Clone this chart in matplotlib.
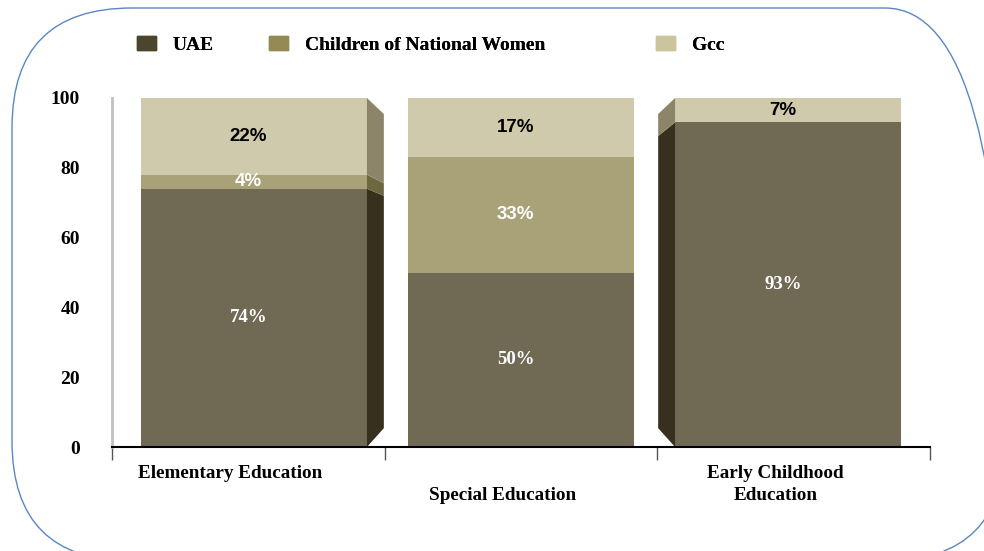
import matplotlib
matplotlib.use('Agg')
import matplotlib.pyplot as plt
import matplotlib.transforms as mtransforms
from matplotlib.patches import Polygon, Patch, FancyBboxPatch
import numpy as np

plt.rcParams['font.family'] = ['Liberation Serif', 'DejaVu Serif']
plt.rcParams['font.weight'] = 'bold'

categories = ['Elementary Education', '\nSpecial Education', 'Early Childhood\nEducation']
series = ['UAE', 'Children of National Women', 'Gcc']
uae = [74, 50, 93]
cnw = [4, 33, 0]
gcc = [22, 17, 7]
yticks = [0, 20, 40, 60, 80, 100]

front_colors = ['#706a55', '#a9a178', '#cfcaab']
side_colors = ['#37301f', '#6e6840', '#8c856a']
legend_colors = ['#4b452c', '#958a54', '#cbc49f']
label_colors = ['white', 'white', 'black']
label_fonts = ['Liberation Serif', 'Liberation Sans', 'Liberation Sans']
faces = ['right', None, 'left']

fig = plt.figure(figsize=(9.84, 5.51), dpi=100)
ax = fig.add_axes([112 / 984, 104 / 551, 818 / 984, 349 / 551])

x = np.arange(len(categories))
shift = np.array([0.02, 0.0, -0.02])
w = 0.83
depth = 0.062

bottoms = np.zeros(len(categories))
for vals, fc, sc, lc, lf in zip([uae, cnw, gcc], front_colors, side_colors,
                                label_colors, label_fonts):
    vals = np.array(vals, dtype=float)
    ax.bar(x + shift, vals, w, bottom=bottoms, color=fc, linewidth=0, zorder=2)
    for i in range(len(categories)):
        if vals[i] == 0:
            continue
        y0, y1 = bottoms[i], bottoms[i] + vals[i]
        if faces[i] is not None:
            if faces[i] == 'right':
                xe = x[i] + shift[i] + w / 2
                xo = xe + depth
            else:
                xe = x[i] + shift[i] - w / 2
                xo = xe - depth
            ax.add_patch(Polygon([(xe, y0), (xe, y1), (xo, 5.4 + 0.9 * y1), (xo, 5.4 + 0.9 * y0)],
                                 closed=True, fc=sc, lw=0, zorder=2))
        ax.text(x[i] + shift[i] - 0.02, (y0 + y1) / 2, '%d%%' % vals[i], color=lc,
                family=lf, fontsize=13.5, fontweight='bold', ha='center', va='center', zorder=3)
    bottoms += vals

ax.set_xlim(-0.5, 2.5)
ax.set_ylim(0, 100)
ax.set_yticks(yticks)
ax.tick_params(axis='y', length=0, pad=23, labelsize=14)

ax.set_xticks([-0.5, 0.5, 1.5, 2.5])
ax.set_xticklabels([])
ax.tick_params(axis='x', which='major', length=9, width=1, color='#555555')
ax.set_xticks(x, minor=True)
ax.set_xticklabels(categories, minor=True, fontsize=13.8)
ax.tick_params(axis='x', which='minor', length=0, pad=13)
off = mtransforms.ScaledTranslation(-18 / 100, 0, fig.dpi_scale_trans)
for lbl in ax.get_xticklabels(minor=True):
    lbl.set_transform(lbl.get_transform() + off)
    lbl.set_linespacing(1.4)

for s in ['top', 'right']:
    ax.spines[s].set_visible(False)
ax.spines['left'].set_color('#c0c0c0')
ax.spines['left'].set_linewidth(2)
ax.spines['bottom'].set_color('black')
ax.spines['bottom'].set_linewidth(1.5)

# legend, one entry at a time because the gaps are uneven
leg_x = [137, 269, 656]
for name, col, lx in zip(series, legend_colors, leg_x):
    lg = fig.legend(handles=[Patch(color=col, label=name)], loc='center left',
                    bbox_to_anchor=(lx / 984, 506 / 551), frameon=False,
                    borderpad=0, borderaxespad=0, handlelength=1.0, handleheight=0.75,
                    handletextpad=0.85, prop={'family': 'Liberation Serif', 'weight': 'bold', 'size': 14})
    fig.add_artist(lg)

border = FancyBboxPatch((12, -10), 993, 553, boxstyle='round,pad=0,rounding_size=120',
                        fill=False, ec='#5b87c0', lw=1,
                        transform=mtransforms.IdentityTransform(), clip_on=False)
fig.add_artist(border)

fig.savefig('out.png', dpi=100)
